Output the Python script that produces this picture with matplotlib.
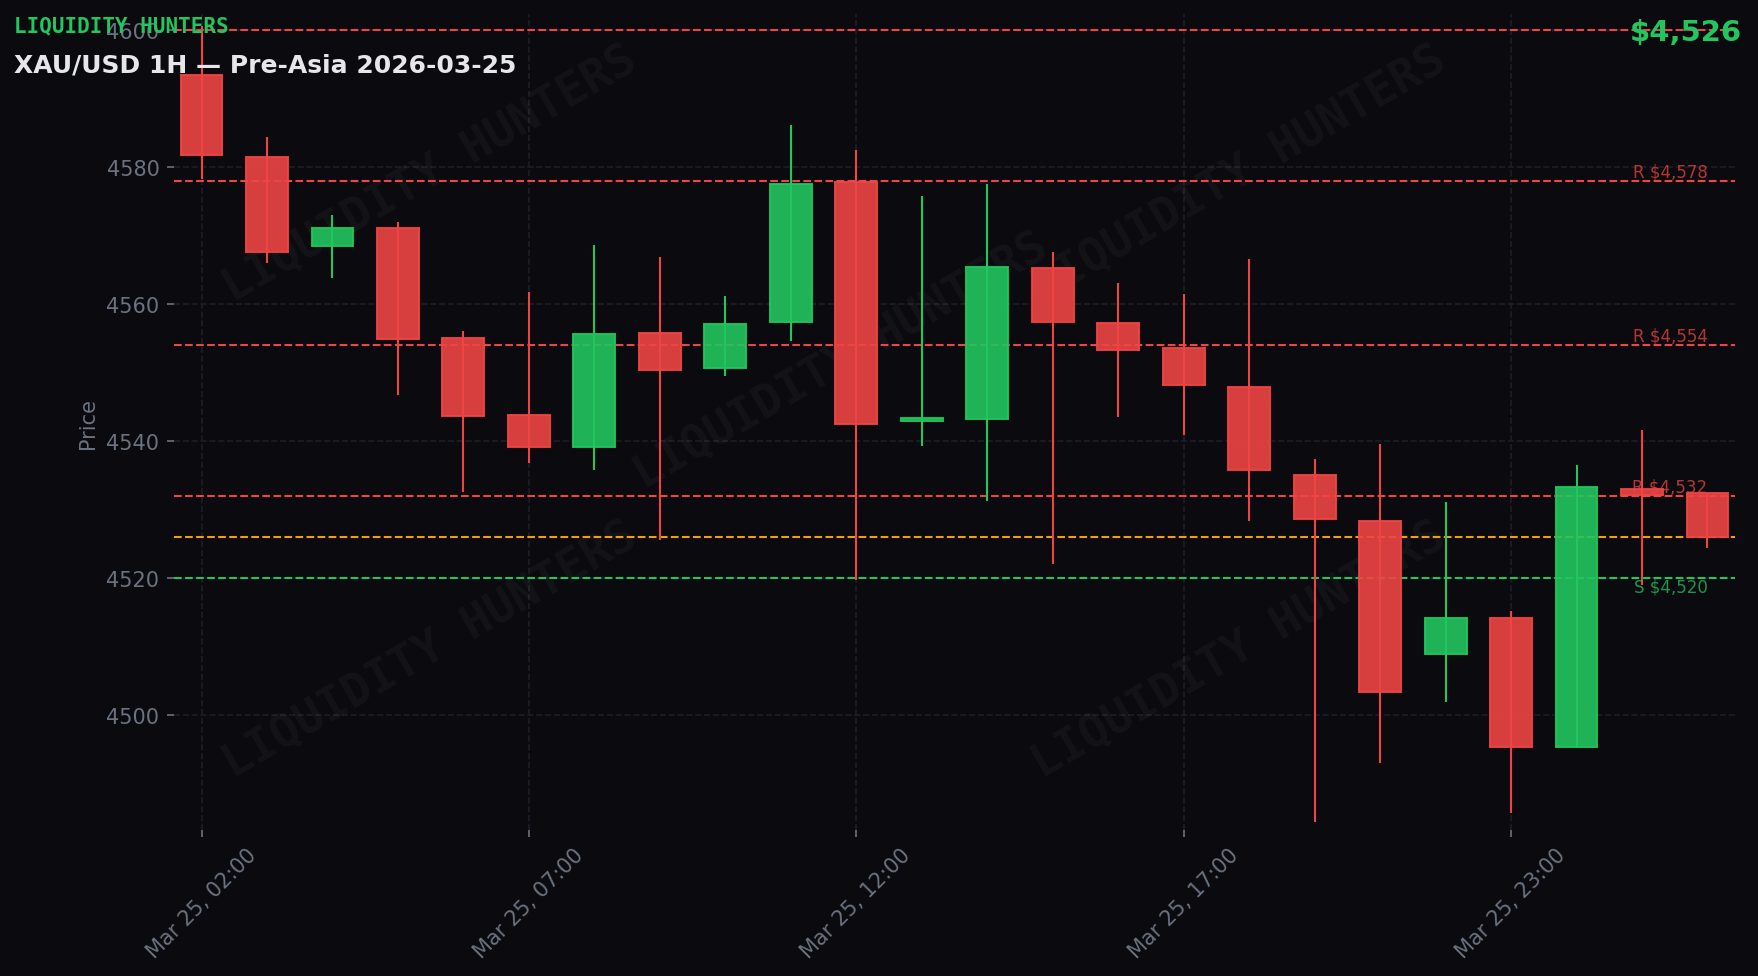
import matplotlib
matplotlib.use("Agg")
from matplotlib import pyplot as plt
import numpy as np

# hourly candles, XAU/USD (22:00 missing - daily break)
times = ['Mar 25, 02:00', 'Mar 25, 03:00', 'Mar 25, 04:00', 'Mar 25, 05:00',
         'Mar 25, 06:00', 'Mar 25, 07:00', 'Mar 25, 08:00', 'Mar 25, 09:00',
         'Mar 25, 10:00', 'Mar 25, 11:00', 'Mar 25, 12:00', 'Mar 25, 13:00',
         'Mar 25, 14:00', 'Mar 25, 15:00', 'Mar 25, 16:00', 'Mar 25, 17:00',
         'Mar 25, 18:00', 'Mar 25, 19:00', 'Mar 25, 20:00', 'Mar 25, 21:00',
         'Mar 25, 23:00', 'Mar 26, 00:00', 'Mar 26, 01:00', 'Mar 26, 02:00']
opens = [4593.4, 4581.5, 4568.4, 4571.1, 4555.0, 4543.8, 4539.1, 4555.7,
         4550.7, 4557.4, 4577.8, 4542.9, 4543.2, 4565.2, 4557.2, 4553.5,
         4547.9, 4535.0, 4528.3, 4508.9, 4514.1, 4495.3, 4533.0, 4532.4]
highs = [4600.6, 4584.3, 4573.0, 4571.9, 4556.0, 4561.7, 4568.6, 4566.8,
         4561.1, 4586.1, 4582.5, 4575.7, 4577.5, 4567.5, 4563.1, 4561.5,
         4566.5, 4537.3, 4539.6, 4531.1, 4515.1, 4536.5, 4541.6, 4532.4]
lows = [4578.2, 4566.0, 4563.8, 4546.7, 4532.6, 4536.8, 4535.7, 4525.5,
        4549.5, 4554.6, 4519.7, 4539.3, 4531.2, 4522.1, 4543.5, 4540.9,
        4528.3, 4484.4, 4493.0, 4501.9, 4485.7, 4495.3, 4519.0, 4524.4]
closes = [4581.8, 4567.6, 4571.1, 4554.8, 4543.7, 4539.1, 4555.6, 4550.4,
          4557.1, 4577.5, 4542.4, 4543.4, 4565.4, 4557.4, 4553.3, 4548.2,
          4535.7, 4528.6, 4503.3, 4514.1, 4495.3, 4533.3, 4532.1, 4526.0]

resistance = [4600, 4578, 4554, 4532]
support = [4520]
current = 4526

BG = '#0a0a0f'
RED = '#ef4444'
GREEN = '#22c55e'
ORANGE = '#f59e0b'
GREY = '#6b7280'

fig = plt.figure(figsize=(11.72, 6.5133), dpi=150, facecolor=BG)
ax = fig.add_axes([0.099, 0.1494, 0.8879, 0.8352])
ax.set_facecolor(BG)

x = np.arange(len(opens))
o = np.array(opens)
c = np.array(closes)
up = c >= o
colors = np.where(up, GREEN, RED)

# wicks then bodies
ax.vlines(x, lows, highs, colors=colors, linewidth=1.0, zorder=3)
ax.bar(x, np.maximum(np.abs(c - o), 0.3), bottom=np.minimum(o, c), width=0.64,
       color=colors, alpha=0.9, edgecolor=colors, linewidth=1.0, zorder=4)

# key levels
for lvl in resistance:
    ax.axhline(lvl, color=RED, linestyle='--', linewidth=1.0, zorder=2)
    if lvl < 4600:
        ax.text(len(x) - 1, lvl, f'R ${lvl:,.0f}', color=RED, alpha=0.75,
                fontsize=8, ha='right', va='bottom', zorder=5)
for lvl in support:
    ax.axhline(lvl, color=GREEN, linestyle='--', linewidth=1.0, zorder=2)
    ax.text(len(x) - 1, lvl, f'S ${lvl:,.0f}', color=GREEN, alpha=0.75,
            fontsize=8, ha='right', va='top', zorder=5)
ax.axhline(current, color=ORANGE, linestyle='--', linewidth=1.0, zorder=2)

# watermark
for wx, wy in [(0.164, 0.805), (0.682, 0.805), (0.427, 0.575),
               (0.164, 0.222), (0.682, 0.222)]:
    ax.text(wx, wy, 'LIQUIDITY HUNTERS', transform=ax.transAxes, rotation=30,
            fontsize=22, fontfamily='DejaVu Sans Mono', fontweight='bold',
            color='white', alpha=0.04, ha='center', va='center', zorder=1)

ax.set_xlim(-0.42, 23.42)
ax.set_ylim(4483.2, 4602.3)
ax.set_xticks(x[::5])
ax.set_xticklabels(times[::5], rotation=45, fontsize=10, color=GREY)
ax.set_yticks([4500, 4520, 4540, 4560, 4580, 4600])
ax.tick_params(axis='y', labelsize=10, labelcolor=GREY, color=GREY)
ax.tick_params(axis='x', color=GREY)
ax.set_ylabel('Price', color=GREY, fontsize=10)
ax.grid(True, color='#1e1e28', linestyle='--', linewidth=0.8, zorder=0)
ax.set_axisbelow(True)
for s in ax.spines.values():
    s.set_visible(False)

fig.text(0.008, 0.967, 'LIQUIDITY HUNTERS', color=GREEN, fontsize=10,
         fontfamily='DejaVu Sans Mono', fontweight='bold', va='baseline')
fig.text(0.008, 0.926, 'XAU/USD 1H — Pre-Asia 2026-03-25', color='#e5e7eb',
         fontsize=12, fontweight='bold', va='baseline')
fig.text(0.991, 0.9585, f'${current:,.0f}', color=GREEN, fontsize=14,
         fontweight='bold', ha='right', va='baseline')

fig.savefig('out.png', dpi=150, facecolor=BG)
